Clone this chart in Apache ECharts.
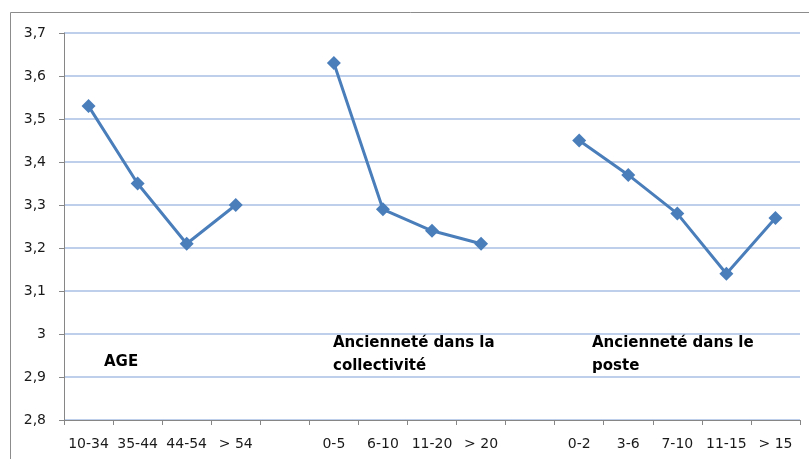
<!DOCTYPE html>
<html>
<head>
<meta charset="utf-8">
<script src="https://cdn.jsdelivr.net/npm/echarts@6/dist/echarts.min.js"></script>
<style>
  html, body { margin: 0; padding: 0; background: #fff; }
  #chart { width: 809px; height: 459px; }
</style>
</head>
<body>
<div id="chart"></div>
<script>
// categories, with an empty slot between each group
var categories = ['10-34', '35-44', '44-54', '> 54', '',
  '0-5', '6-10', '11-20', '> 20', '',
  '0-2', '3-6', '7-10', '11-15', '> 15'];
var ageValues = [3.53, 3.35, 3.21, 3.30];
var collectiviteValues = [3.63, 3.29, 3.24, 3.21];
var posteValues = [3.45, 3.37, 3.28, 3.14, 3.27];
var yTicks = [2.8, 2.9, 3, 3.1, 3.2, 3.3, 3.4, 3.5, 3.6, 3.7];

var values = [].concat(ageValues, ['-'], collectiviteValues, ['-'], posteValues);

var chart = echarts.init(document.getElementById('chart'));
var labelFont = { fontFamily: 'DejaVu Sans', fontSize: 15, fontWeight: 'bold', fill: '#000' };

var option = {
  animation: false,
  grid: { left: 64, right: 9, top: 33, bottom: 39 },
  xAxis: {
    type: 'category',
    data: categories,
    boundaryGap: true,
    axisLine: { lineStyle: { color: '#868686' } },
    axisTick: { show: true, length: 5, lineStyle: { color: '#868686' } },
    axisLabel: { color: '#1a1a1a', fontSize: 14, fontFamily: 'DejaVu Sans', margin: 17, interval: 0 },
    splitLine: { show: false }
  },
  yAxis: {
    type: 'value',
    min: yTicks[0],
    max: yTicks[yTicks.length - 1],
    interval: 0.1,
    axisLine: { show: true, lineStyle: { color: '#868686' } },
    axisTick: { show: true, length: 5, lineStyle: { color: '#868686' } },
    axisLabel: {
      color: '#1a1a1a', fontSize: 14, fontFamily: 'DejaVu Sans', margin: 18,
      formatter: function (v) { return String(Math.round(v * 10) / 10).replace('.', ','); }
    },
    splitLine: { lineStyle: { color: '#A7BFE3', width: 1.5 } }
  },
  series: [{
    type: 'line',
    data: values,
    connectNulls: false,
    symbol: 'diamond',
    symbolSize: 14,
    lineStyle: { color: '#4A7EBB', width: 3 },
    itemStyle: { color: '#4A7EBB' }
  }],
  graphic: [
    { type: 'rect', shape: { x: 10.5, y: 12.5, width: 820, height: 470 },
      style: { fill: 'none', stroke: '#8c8c8c', lineWidth: 1 }, silent: true },
    { type: 'text', left: 104, top: 355, style: Object.assign({ text: 'AGE' }, labelFont) },
    { type: 'text', left: 333, top: 332, style: Object.assign({ text: 'Ancienneté dans la\ncollectivité', lineHeight: 23 }, labelFont) },
    { type: 'text', left: 592, top: 332, style: Object.assign({ text: 'Ancienneté dans le\nposte', lineHeight: 23 }, labelFont) }
  ]
};
chart.setOption(option);
</script>
</body>
</html>
